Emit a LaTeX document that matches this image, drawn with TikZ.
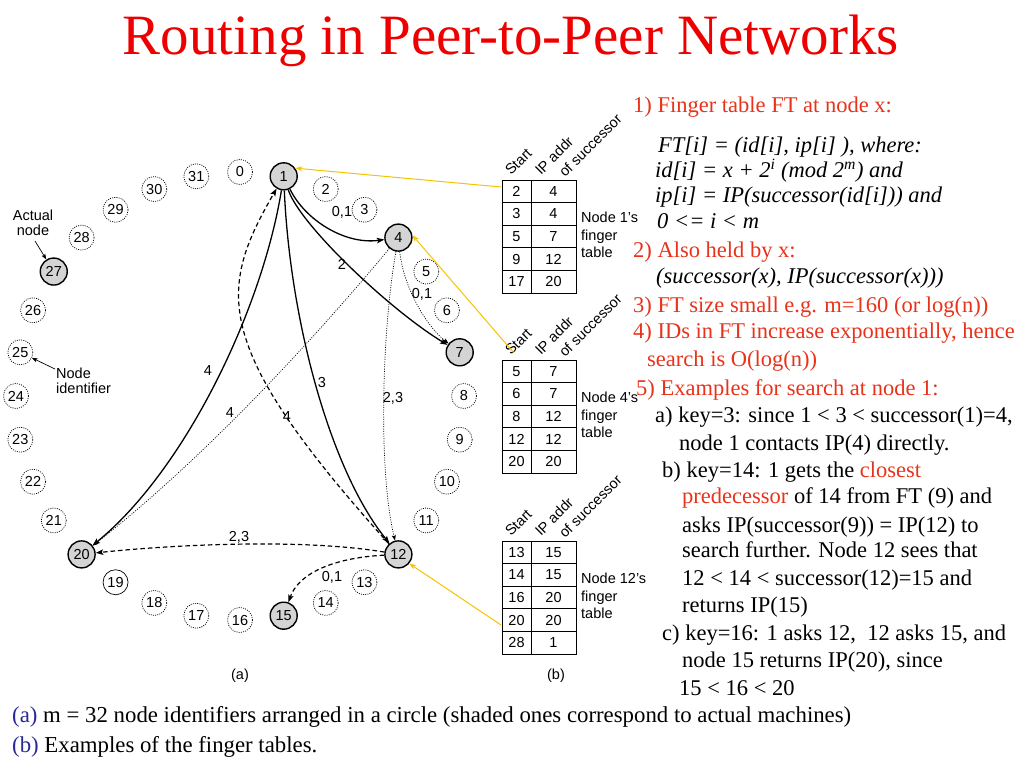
\documentclass[tikz,border=0pt]{standalone}
\usepackage{fontspec}
\setmainfont{Liberation Serif}
\setsansfont{Liberation Sans}
\usetikzlibrary{arrows.meta,calc}
\definecolor{titlered}{RGB}{238,0,0}
\definecolor{txtred}{RGB}{232,50,25}
\definecolor{capblue}{RGB}{40,40,150}
\definecolor{fyellow}{RGB}{245,195,0}
\definecolor{nodegray}{RGB}{212,212,212}
\begin{document}
\begin{tikzpicture}[x=1pt,y=-1pt,
  lab/.style={font=\sffamily\fontsize{14.5}{14.5}\selectfont},
  idnode/.style={lab,circle,draw,dash pattern=on 1pt off 1.2pt,line width=0.7pt,minimum size=25pt,inner sep=0pt},
  plainid/.style={lab,circle,draw,line width=0.7pt,minimum size=25pt,inner sep=0pt},
  realnode/.style={lab,circle,draw,fill=nodegray,line width=1.4pt,minimum size=27pt,inner sep=0pt},
  tip/.style={-{Stealth[length=7.5pt,width=5.5pt,inset=1.5pt]}},
  smalltip/.style={-{Stealth[length=5.5pt,width=4pt,inset=1pt]}},
  solidarr/.style={tip,line width=1.3pt},
  dasharr/.style={tip,line width=1.2pt,dash pattern=on 4.5pt off 3pt},
  dotarr/.style={smalltip,line width=0.7pt,dash pattern=on 1pt off 1.4pt},
  yarr/.style={-{Stealth[length=7pt,width=5pt]},draw=fyellow,line width=1pt},
  elabel/.style={lab,inner sep=1pt},
  cell/.style={lab,inner sep=0pt},
  tabline/.style={line width=0.8pt},
  hdr/.style={lab,rotate=45,anchor=base west,inner sep=0pt},
  tabcap/.style={font=\sffamily\fontsize{14.5}{17.5}\selectfont,anchor=west,align=left,inner sep=0pt},
  rtxt/.style={anchor=base west,inner sep=0pt,font=\fontsize{22.5}{27}\selectfont},
  itxt/.style={rtxt,font=\fontsize{22.5}{27}\selectfont\itshape},
  ctxt/.style={anchor=base west,inner sep=0pt,font=\fontsize{22.8}{27}\selectfont}
]
\useasboundingbox (0,0) rectangle (1024,768);

% title
\node[font=\fontsize{57}{57}\selectfont,text=titlered,anchor=base,inner sep=0pt] (title) at (511,55) {Routing in Peer-to-Peer Networks};

% ring of identifiers
\foreach \k in {0,2,3,5,6,8,9,10,11,13,14,16,17,18,21,22,23,24,25,26,28,29,30,31}
  \node[idnode] (n\k) at ({240+224*cos(-90+11.25*\k)},{396+224*sin(-90+11.25*\k)}) {\k};
\node[plainid] (n19) at ({240+224*cos(-90+11.25*19)},{396+224*sin(-90+11.25*19)}) {19};
\foreach \k in {1,4,7,12,15,20,27}
  \node[realnode] (n\k) at ({240+224*cos(-90+11.25*\k)},{396+224*sin(-90+11.25*\k)}) {\k};

% side labels
\node[lab,align=center,inner sep=0pt] (actual) at (33,223) {Actual\\node};
\draw[smalltip,line width=0.7pt] (35,241) -- (n27);
\node[lab,align=left,anchor=west,inner sep=0pt] (nid) at (56,381) {Node\\identifier};
\coordinate (nidc) at (55,369);
\draw[smalltip,line width=0.7pt] (nidc) -- (n25);

% edges from node 1
\draw[solidarr] (n1) .. controls (305,220) and (345,245) .. (n4);
\draw[solidarr] (n1) .. controls (300,225) and (390,310) .. (n7);
\draw[solidarr] (n1) .. controls (290,320) and (330,470) .. (n12);
\draw[solidarr] (n1) .. controls (262,310) and (185,470) .. (n20);
% dashed: 12 back to 1, 12 to 20, 12 to 15
\draw[dasharr] (n12) .. controls (210,345) and (218,290) .. (n1);
\draw[dasharr] (n12) .. controls (300,538) and (170,545) .. (n20);
\draw[dasharr] (n12) .. controls (330,558) and (298,575) .. (n15);
% dotted from node 4
\draw[dotarr] (n4) .. controls (403,285) and (425,325) .. (n7);
\draw[dotarr] (n4) .. controls (382,330) and (378,470) .. (n12);
\draw[dotarr] (n4) .. controls (330,320) and (215,450) .. (n20);

% edge labels
\node[elabel] (l01a) at (342,212) {0,1};
\node[elabel] (l2) at (342,264) {2};
\node[elabel] (l3) at (322,383) {3};
\node[elabel] (l4a) at (208,371) {4};
\node[elabel] (l4b) at (230,413) {4};
\node[elabel] (l4c) at (287,417) {4};
\node[elabel] (l01b) at (422,294) {0,1};
\node[elabel] (l23a) at (393,398) {2,3};
\node[elabel] (l23b) at (239,537) {2,3};
\node[elabel] (l01c) at (332,577) {0,1};

% captions of parts
\node[lab] (capa) at (240,676) {(a)};
\node[lab] (capb) at (556,676) {(b)};

% ---- table of node 1
\draw[tabline] (502,180) rectangle (576,293);
\foreach \i in {1,...,4} \draw[tabline] (502,{180+22.6*\i}) -- (576,{180+22.6*\i});
\draw[tabline] (531,180) -- (531,293);
\foreach \a/\b [count=\i] in {2/4,3/4,5/7,9/12,17/20} {
  \node[cell] (t1a\i) at (516.5,{180+22.6*\i-11.3}) {\a};
  \node[cell] (t1b\i) at (553.5,{180+22.6*\i-11.3}) {\b};
}
\node[hdr] (h1s) at (511,176) {Start};
\node[hdr] (h1i) at (541,176) {IP addr};
\node[hdr] (h1o) at (565,178) {of successor};
\node[tabcap] (c1) at (581,235) {Node 1's\\finger\\table};

% ---- table of node 4
\draw[tabline] (502,360) rectangle (576,473);
\foreach \i in {1,...,4} \draw[tabline] (502,{360+22.6*\i}) -- (576,{360+22.6*\i});
\draw[tabline] (531,360) -- (531,473);
\foreach \a/\b [count=\i] in {5/7,6/7,8/12,12/12,20/20} {
  \node[cell] (t4a\i) at (516.5,{360+22.6*\i-11.3}) {\a};
  \node[cell] (t4b\i) at (553.5,{360+22.6*\i-11.3}) {\b};
}
\node[hdr] (h4s) at (511,356) {Start};
\node[hdr] (h4i) at (541,356) {IP addr};
\node[hdr] (h4o) at (565,358) {of successor};
\node[tabcap] (c4) at (581,415) {Node 4's\\finger\\table};

% ---- table of node 12
\draw[tabline] (502,541) rectangle (576,654);
\foreach \i in {1,...,4} \draw[tabline] (502,{541+22.6*\i}) -- (576,{541+22.6*\i});
\draw[tabline] (531,541) -- (531,654);
\foreach \a/\b [count=\i] in {13/15,14/15,16/20,20/20,28/1} {
  \node[cell] (t12a\i) at (516.5,{541+22.6*\i-11.3}) {\a};
  \node[cell] (t12b\i) at (553.5,{541+22.6*\i-11.3}) {\b};
}
\node[hdr] (h12s) at (511,537) {Start};
\node[hdr] (h12i) at (541,537) {IP addr};
\node[hdr] (h12o) at (565,539) {of successor};
\node[tabcap] (c12) at (581,596) {Node 12's\\finger\\table};

% yellow pointers
\coordinate (y1) at (501,187);
\coordinate (y2) at (514,353);
\coordinate (y3) at (501,625);
\draw[yarr] (y1) -- (n1.35);
\draw[yarr] (y2) -- (n4.10);
\draw[yarr] (y3) -- (n12.-40);

% right-hand text
\node[rtxt,text=txtred] (r1) at (633,112) {1) Finger table FT at node x:};
\node[itxt] (r2) at (658,152) {FT[i] = (id[i], ip[i] ), where:};
\node[itxt] (r3) at (655,177) {id[i] = x + 2\textsuperscript{i} (mod 2\textsuperscript{m}) and};
\node[itxt] (r4) at (655,202) {ip[i] = IP(successor(id[i])) and};
\node[itxt] (r5) at (657,228) {0 <= i < m};
\node[rtxt,text=txtred] (r6) at (633,257) {2) Also held by x:};
\node[itxt] (r7) at (656,283) {(successor(x), IP(successor(x)))};
\node[rtxt,text=txtred] (r8) at (633,312) {3) FT size small e.g. m=160 (or log(n))};
\node[rtxt,text=txtred] (r9) at (633,338) {4) IDs in FT increase exponentially, hence};
\node[rtxt,text=txtred] (r10) at (647,366) {search is O(log(n))};
\node[rtxt,text=txtred] (r11) at (636,395) {5) Examples for search at node 1:};
\node[rtxt] (r12) at (655,422) {a) key=3: since 1 < 3 < successor(1)=4,};
\node[rtxt] (r13) at (679,450) {node 1 contacts IP(4) directly.};
\node[rtxt] (r14) at (662,477) {b) key=14: 1 gets the \textcolor{txtred}{closest}};
\node[rtxt] (r15) at (682,503) {\textcolor{txtred}{predecessor} of 14 from FT (9) and};
\node[rtxt] (r16) at (682,532) {asks IP(successor(9)) = IP(12) to};
\node[rtxt] (r17) at (682,557) {search further. Node 12 sees that};
\node[rtxt] (r18) at (682,585) {12 < 14 < successor(12)=15 and};
\node[rtxt] (r19) at (682,612) {returns IP(15)};
\node[rtxt] (r20) at (662,640) {c) key=16: 1 asks 12,\ \ 12 asks 15, and};
\node[rtxt] (r21) at (682,667) {node 15 returns IP(20), since};
\node[rtxt] (r22) at (679,695) {15 < 16 < 20};

% bottom captions
\node[ctxt] (b1) at (12,722) {\textcolor{capblue}{(a)} m = 32 node identifiers arranged in a circle (shaded ones correspond to actual machines)};
\node[ctxt] (b2) at (12,752) {\textcolor{capblue}{(b)} Examples of the finger tables.};
\end{tikzpicture}
\end{document}
